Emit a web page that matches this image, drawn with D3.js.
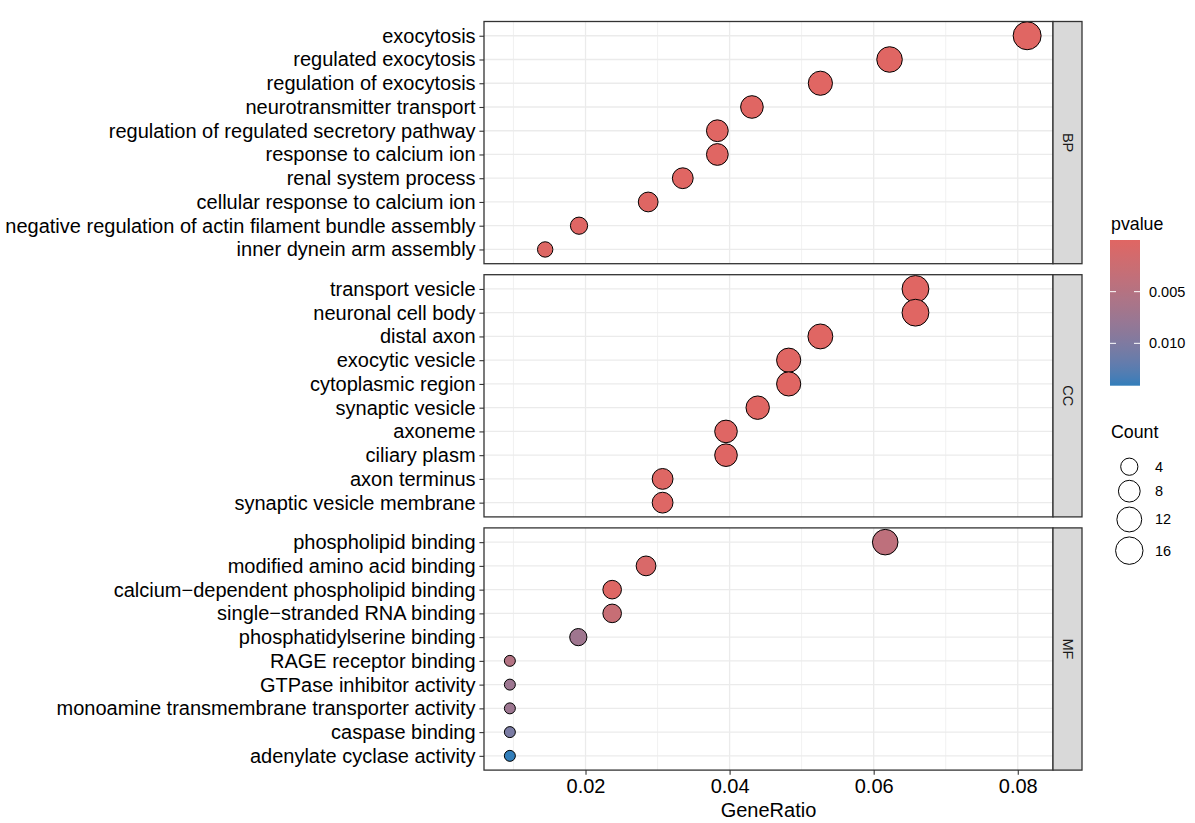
<!DOCTYPE html>
<html>
<head>
<meta charset="utf-8">
<script src="https://cdn.jsdelivr.net/npm/d3@7"></script>
<style>
  html, body { margin: 0; padding: 0; background: #ffffff; }
  svg { display: block; font-family: "Liberation Sans", Arial, Helvetica, sans-serif; }
</style>
</head>
<body>
<svg id="chart" width="1195" height="823"></svg>
<script>
// ---------------- data ----------------
const ontologies = ["BP", "CC", "MF"];

const categoriesBP = ["exocytosis", "regulated exocytosis", "regulation of exocytosis",
  "neurotransmitter transport", "regulation of regulated secretory pathway",
  "response to calcium ion", "renal system process", "cellular response to calcium ion",
  "negative regulation of actin filament bundle assembly", "inner dynein arm assembly"];
const ratiosBP = [0.0813, 0.0622, 0.0526, 0.0431, 0.0383, 0.0383, 0.0335, 0.0287, 0.0191, 0.0144];
const countsBP = [17, 13, 11, 9, 8, 8, 7, 6, 4, 3];
const pvaluesBP = [0.0000001, 0.0000004, 0.000002, 0.000008, 0.00002, 0.00003, 0.00005, 0.00008, 0.0001, 0.0002];

const categoriesCC = ["transport vesicle", "neuronal cell body", "distal axon", "exocytic vesicle",
  "cytoplasmic region", "synaptic vesicle", "axoneme", "ciliary plasm", "axon terminus",
  "synaptic vesicle membrane"];
const ratiosCC = [0.0658, 0.0658, 0.0526, 0.0482, 0.0482, 0.0439, 0.0395, 0.0395, 0.0307, 0.0307];
const countsCC = [15, 15, 12, 11, 11, 10, 9, 9, 7, 7];
const pvaluesCC = [0.000001, 0.000003, 0.00001, 0.00002, 0.00004, 0.00006, 0.00009, 0.0001, 0.0002, 0.0003];

const categoriesMF = ["phospholipid binding", "modified amino acid binding",
  "calcium\u2212dependent phospholipid binding", "single\u2212stranded RNA binding",
  "phosphatidylserine binding", "RAGE receptor binding", "GTPase inhibitor activity",
  "monoamine transmembrane transporter activity", "caspase binding", "adenylate cyclase activity"];
const ratiosMF = [0.0616, 0.0284, 0.0237, 0.0237, 0.0190, 0.0095, 0.0095, 0.0095, 0.0095, 0.0095];
const countsMF = [13, 6, 5, 5, 4, 2, 2, 2, 2, 2];
const pvaluesMF = [0.0040, 0.0009, 0.0002, 0.0030, 0.0072, 0.0052, 0.0074, 0.0074, 0.0104, 0.0141];

const xTicks = [0.02, 0.04, 0.06, 0.08];
const xMinorTicks = [0.01, 0.03, 0.05, 0.07];
const pvalueTicks = [0.005, 0.010];
const countTicks = [4, 8, 12, 16];

// ---------------- assemble ----------------
const panels = [
  {name: "BP", cats: categoriesBP, ratios: ratiosBP, counts: countsBP, p: pvaluesBP},
  {name: "CC", cats: categoriesCC, ratios: ratiosCC, counts: countsCC, p: pvaluesCC},
  {name: "MF", cats: categoriesMF, ratios: ratiosMF, counts: countsMF, p: pvaluesMF}
];
const allRatios = [].concat(ratiosBP, ratiosCC, ratiosMF);
const allCounts = [].concat(countsBP, countsCC, countsMF);
const allP = [].concat(pvaluesBP, pvaluesCC, pvaluesMF);

// ---------------- layout ----------------
const plotLeft = 484, plotRight = 1053, stripW = 29;
const panelTop = 21.5, panelH = 242.2, panelGap = 11;
const font = '"Liberation Sans", Arial, Helvetica, sans-serif';

const svg = d3.select("#chart");

// x scale with 5% expansion like ggplot
const [rmin, rmax] = d3.extent(allRatios);
const pad = (rmax - rmin) * 0.05;
const x = d3.scaleLinear().domain([rmin - pad, rmax + pad]).range([plotLeft, plotRight]);

// size scale (area-like) -> radius
const cNorm = d3.scaleLinear().domain(d3.extent(allCounts)).range([0, 1]);
const sizeScale = d3.scaleSqrt().domain([0, 1]).range([3, 8]);
const radius = c => 1.7 * sizeScale(Math.max(0, cNorm(c))) + 0.4;

// colour scale
const pExtent = d3.extent(allP);
const color = d3.scaleLinear().domain(pExtent).range(["#e06663", "#327eba"]).interpolate(d3.interpolateLab);

panels.forEach((pn, i) => {
  const top = panelTop + i * (panelH + panelGap);
  const bottom = top + panelH;
  const y = d3.scalePoint().domain(pn.cats).range([top, bottom]).padding(0.6);
  const g = svg.append("g");

  g.append("rect").attr("x", plotLeft).attr("y", top).attr("width", plotRight - plotLeft)
    .attr("height", panelH).attr("fill", "#ffffff");

  // minor grid
  g.selectAll(".minor").data(xMinorTicks.filter(t => x(t) > plotLeft && x(t) < plotRight)).enter()
    .append("line").attr("x1", d => x(d)).attr("x2", d => x(d)).attr("y1", top).attr("y2", bottom)
    .attr("stroke", "#EBEBEB").attr("stroke-width", 0.7);
  // major grid
  g.selectAll(".majx").data(xTicks).enter()
    .append("line").attr("x1", d => x(d)).attr("x2", d => x(d)).attr("y1", top).attr("y2", bottom)
    .attr("stroke", "#EBEBEB").attr("stroke-width", 1.3);
  g.selectAll(".majy").data(pn.cats).enter()
    .append("line").attr("x1", plotLeft).attr("x2", plotRight).attr("y1", d => y(d)).attr("y2", d => y(d))
    .attr("stroke", "#EBEBEB").attr("stroke-width", 1.3);

  // y axis
  const yAxis = d3.axisLeft(y).tickSize(4.6).tickPadding(3.8);
  const ya = g.append("g").attr("transform", `translate(${plotLeft},0)`).call(yAxis);
  ya.select(".domain").remove();
  ya.selectAll("line").attr("stroke", "#333333").attr("stroke-width", 1.1);
  ya.selectAll("text").attr("fill", "#000000").style("font-size", "20px").style("font-family", font);

  // points
  const data = pn.cats.map((c, k) => ({cat: c, r: pn.ratios[k], n: pn.counts[k], p: pn.p[k]}));
  g.selectAll("circle.pt").data(data).enter().append("circle")
    .attr("cx", d => x(d.r)).attr("cy", d => y(d.cat)).attr("r", d => radius(d.n))
    .attr("fill", d => color(d.p)).attr("stroke", "#000000").attr("stroke-width", 1);

  // border
  g.append("rect").attr("x", plotLeft).attr("y", top).attr("width", plotRight - plotLeft)
    .attr("height", panelH).attr("fill", "none").attr("stroke", "#333333").attr("stroke-width", 1.3);

  // strip
  g.append("rect").attr("x", plotRight).attr("y", top).attr("width", stripW).attr("height", panelH)
    .attr("fill", "#D9D9D9").attr("stroke", "#333333").attr("stroke-width", 1.3);
  g.append("text").attr("transform", `translate(${plotRight + stripW / 2},${(top + bottom) / 2}) rotate(90)`)
    .attr("text-anchor", "middle").attr("dominant-baseline", "central")
    .style("font-size", "14.5px").attr("fill", "#1A1A1A").text(pn.name);

  if (i === panels.length - 1) {
    const xAxis = d3.axisBottom(x).tickValues(xTicks).tickFormat(d3.format(".2f")).tickSize(4.6).tickPadding(3.8);
    const xa = g.append("g").attr("transform", `translate(0,${bottom})`).call(xAxis);
    xa.select(".domain").remove();
    xa.selectAll("line").attr("stroke", "#333333").attr("stroke-width", 1.1);
    xa.selectAll("text").attr("fill", "#000000").style("font-size", "20px").style("font-family", font);
    svg.append("text").attr("x", (plotLeft + plotRight) / 2).attr("y", 816.5).attr("text-anchor", "middle")
      .style("font-size", "20px").attr("fill", "#000000").text("GeneRatio");
  }
});

// ---------------- colour legend ----------------
const cbX = 1110, cbW = 30, cbTop = 240, cbBottom = 385.7;
svg.append("text").attr("x", 1111).attr("y", 230).style("font-size", "17.8px").attr("fill", "#000")
  .text("pvalue");
const defs = svg.append("defs");
const grad = defs.append("linearGradient").attr("id", "pgrad").attr("x1", 0).attr("x2", 0).attr("y1", 0).attr("y2", 1);
d3.range(0, 1.0001, 0.05).forEach(t => {
  grad.append("stop").attr("offset", t).attr("stop-color", color(pExtent[0] + t * (pExtent[1] - pExtent[0])));
});
svg.append("rect").attr("x", cbX).attr("y", cbTop).attr("width", cbW).attr("height", cbBottom - cbTop)
  .attr("fill", "url(#pgrad)");
const cbScale = d3.scaleLinear().domain(pExtent).range([cbTop, cbBottom]);
pvalueTicks.forEach(t => {
  const yy = cbScale(t);
  svg.append("line").attr("x1", cbX).attr("x2", cbX + 6).attr("y1", yy).attr("y2", yy).attr("stroke", "#fff").attr("stroke-width", 1);
  svg.append("line").attr("x1", cbX + cbW - 6).attr("x2", cbX + cbW).attr("y1", yy).attr("y2", yy).attr("stroke", "#fff").attr("stroke-width", 1);
  svg.append("text").attr("x", 1149).attr("y", yy).attr("dominant-baseline", "central")
    .style("font-size", "14.5px").attr("fill", "#000").text(d3.format(".3f")(t));
});

// ---------------- size legend ----------------
svg.append("text").attr("x", 1111).attr("y", 437.7).style("font-size", "17.8px").attr("fill", "#000").text("Count");
let cy = 466.7;
countTicks.forEach((c, k) => {
  const r = radius(c);
  if (k > 0) {
    const prev = radius(countTicks[k - 1]);
    cy += (2 * prev + 5 + 2 * r + 5) / 2;
  }
  svg.append("circle").attr("cx", 1129.3).attr("cy", cy).attr("r", r)
    .attr("fill", "#fff").attr("stroke", "#000").attr("stroke-width", 1);
  svg.append("text").attr("x", 1155).attr("y", cy).attr("dominant-baseline", "central")
    .style("font-size", "14.5px").attr("fill", "#000").text(c);
});
</script>
</body>
</html>
